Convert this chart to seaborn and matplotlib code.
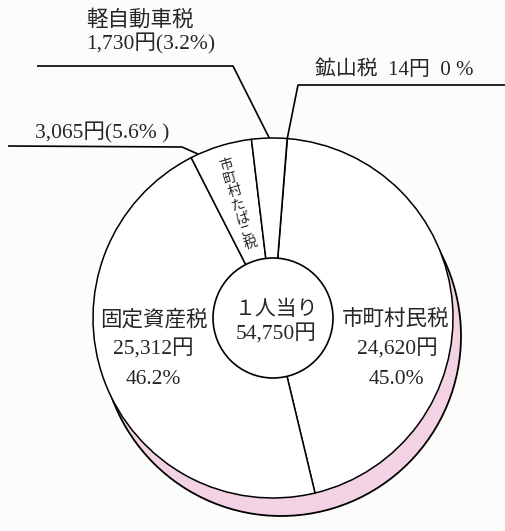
import matplotlib
matplotlib.use("Agg")
import matplotlib.pyplot as plt
from matplotlib.patches import Circle
import numpy as np
import seaborn as sns

sns.set_theme(style="white")
plt.rcParams['font.family'] = ['Liberation Serif', 'Noto Sans CJK JP', 'DejaVu Sans']

# ---- data ----
categories = ["鉱山税", "市町村民税", "固定資産税", "市町村たばこ税", "軽自動車税"]
amounts = [14, 24620, 25312, 3065, 1730]          # 円 per person
percents = ["0 %", "45.0%", "46.2%", "5.6%", "3.2%"]
amount_labels = ["14円", "24,620円", "25,312円", "3,065円", "1,730円"]
center_title = "１人当り"
center_total = "54,750円"

W, H = 506, 531
def Y(py):
    return H - py

fig = plt.figure(figsize=(W / 100, H / 100), dpi=100)
fig.patch.set_facecolor("#fcfcfa")
ax = fig.add_axes([0, 0, 1, 1])
ax.set_facecolor("#fcfcfa")

cx, cy = 273, Y(318)
R, r = 180, 60
pink = "#f3d3e3"

# shadow
ax.add_patch(Circle((cx + 8, cy - 18), R, facecolor=pink, edgecolor="black",
                    linewidth=1.3, zorder=1))

wedges, _ = ax.pie(amounts, radius=R, center=(cx, cy), startangle=85.5,
                   counterclock=False,
                   wedgeprops=dict(facecolor="white",
                                   edgecolor="black", linewidth=1.1))
for w in wedges:
    w.set_zorder(2)

# inner hole
ax.add_patch(Circle((cx, cy), r, facecolor="white", edgecolor="black",
                    linewidth=1.2, zorder=3))

def mid(i):
    w = wedges[i]
    return np.deg2rad((w.theta1 + w.theta2) / 2)

def outer_pt(theta):
    return cx + R * np.cos(theta), cy + R * np.sin(theta)

lkw = dict(color="black", linewidth=1.2, zorder=3, solid_capstyle="butt")
fs = 15.5

# 鉱山税 leader
x0, y0 = outer_pt(mid(0))
ax.plot([x0, 298, W], [y0, Y(85), Y(85)], **lkw)
ax.text(394, Y(70), f"{categories[0]}  {amount_labels[0]}  {percents[0]}",
        ha="center", va="center", fontsize=fs - 0.5)

# 軽自動車税 leader
x0, y0 = outer_pt(mid(4))
ax.plot([x0, 233, 37], [y0, Y(66), Y(66)], **lkw)
ax.text(140, Y(20), categories[4], ha="center", va="center", fontsize=fs)
ax.text(151, Y(44), f"{amount_labels[4]}({percents[4]})", ha="center",
        va="center", fontsize=fs)

# 市町村たばこ税 leader
x0, y0 = outer_pt(np.deg2rad(114.5))
ax.plot([x0, 182, 8], [y0, Y(147), Y(146)], **lkw)
ax.text(102, Y(133), f"{amount_labels[3]}({percents[3]} )", ha="center",
        va="center", fontsize=fs)

# vertical label inside たばこ wedge
t = mid(3)
rr = 118
ax.text(cx + rr * np.cos(t), cy + rr * np.sin(t), "\n".join(categories[3]),
        ha="center", va="center", multialignment="center",
        rotation=np.rad2deg(t) - 90, rotation_mode="anchor",
        fontsize=10, linespacing=1.08, zorder=4)

# 固定資産税
ax.text(154, Y(320), categories[2], ha="center", va="center", fontsize=fs)
ax.text(153, Y(350), amount_labels[2], ha="center", va="center", fontsize=fs)
ax.text(153, Y(380), percents[2], ha="center", va="center", fontsize=fs)

# 市町村民税
ax.text(396, Y(320), categories[1], ha="center", va="center", fontsize=fs)
ax.text(397, Y(350), amount_labels[1], ha="center", va="center", fontsize=fs)
ax.text(396, Y(380), percents[1], ha="center", va="center", fontsize=fs)

# centre
ax.text(277, Y(310), center_title, ha="center", va="center", fontsize=fs - 0.5,
        zorder=4)
ax.text(276, Y(335), center_total, ha="center", va="center", fontsize=fs,
        zorder=4)

ax.set_xlim(0, W)
ax.set_ylim(0, H)
ax.set_aspect("equal")
ax.axis("off")

fig.savefig("out.png", dpi=100, facecolor=fig.get_facecolor())
